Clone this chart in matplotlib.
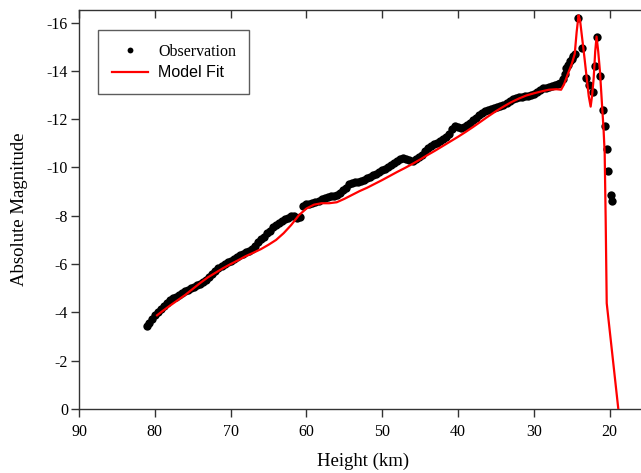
import matplotlib
matplotlib.use("Agg")
import matplotlib.pyplot as plt

plt.rcParams["font.family"] = ["Liberation Serif", "DejaVu Serif"]

# observation (height km, absolute magnitude)
obsH = [81.0, 80.8, 80.4, 80.0, 79.6, 79.2, 78.8, 78.4, 78.0, 77.6, 77.2, 76.8, 76.4, 76.0,
        75.6, 75.2, 74.8, 74.4, 74.0, 73.6, 73.2, 72.8, 72.4, 72.0, 71.6, 71.2, 70.8, 70.4,
        70.0, 69.6, 69.2, 68.8, 68.4, 68.0, 67.6, 67.2, 66.8, 66.4, 66.0, 65.6, 65.2, 64.8,
        64.4, 64.0, 63.6, 63.2, 62.8, 62.4, 62.0, 61.6, 61.2, 60.8, 60.4, 60.0, 59.6, 59.2,
        58.8, 58.4, 58.0, 57.6, 57.2, 56.8, 56.4, 56.0, 55.6, 55.2, 54.8, 54.4, 54.0, 53.6,
        53.2, 52.8, 52.4, 52.0, 51.6, 51.2, 50.8, 50.4, 50.0, 49.6, 49.2, 48.8, 48.4, 48.0,
        47.6, 47.2, 46.8, 46.4, 46.0, 45.6, 45.2, 44.8, 44.4, 44.0, 43.6, 43.2, 42.8, 42.4,
        42.0, 41.6, 41.2, 40.8, 40.4, 40.0, 39.6, 39.2, 38.8, 38.4, 38.0, 37.6, 37.2, 36.8,
        36.4, 36.0, 35.6, 35.2, 34.8, 34.4, 34.0, 33.6, 33.2, 32.8, 32.4, 32.0, 31.6, 31.2,
        30.8, 30.4, 30.0, 29.6, 29.2, 28.8, 28.4, 28.0, 27.6, 27.2, 26.8, 26.5, 26.2, 25.9,
        25.7, 25.5, 25.2, 25.0, 24.8, 24.57, 24.13, 23.68, 23.16, 22.72, 22.23, 21.93, 21.62,
        21.27, 20.83, 20.57, 20.30, 20.17, 19.86, 19.64]
obsM = [-3.45, -3.55, -3.72, -3.88, -4.02, -4.15, -4.27, -4.40, -4.50, -4.58, -4.65, -4.72, -4.80, -4.88,
        -4.93, -5.00, -5.07, -5.13, -5.18, -5.27, -5.36, -5.48, -5.60, -5.72, -5.82, -5.92, -6.00, -6.07,
        -6.13, -6.20, -6.28, -6.36, -6.42, -6.50, -6.56, -6.62, -6.75, -6.90, -7.02, -7.12, -7.27, -7.38,
        -7.52, -7.62, -7.72, -7.80, -7.86, -7.92, -7.98, -7.98, -7.92, -7.95, -8.40, -8.47, -8.50, -8.52,
        -8.56, -8.62, -8.68, -8.73, -8.76, -8.80, -8.84, -8.88, -8.95, -9.05, -9.15, -9.30, -9.36, -9.38,
        -9.40, -9.43, -9.48, -9.55, -9.62, -9.68, -9.74, -9.80, -9.88, -9.95, -10.02, -10.10, -10.18, -10.26,
        -10.34, -10.38, -10.36, -10.30, -10.26, -10.34, -10.42, -10.52, -10.68, -10.80, -10.90, -10.96, -11.02, -11.08,
        -11.16, -11.26, -11.40, -11.58, -11.70, -11.68, -11.64, -11.66, -11.74, -11.84, -11.96, -12.06, -12.16, -12.26,
        -12.34, -12.40, -12.44, -12.47, -12.51, -12.55, -12.60, -12.66, -12.75, -12.84, -12.88, -12.90, -12.92, -12.94,
        -12.97, -13.00, -13.04, -13.12, -13.22, -13.28, -13.30, -13.33, -13.37, -13.40, -13.44, -13.50, -13.65, -13.86,
        -14.10, -14.26, -14.40, -14.50, -14.60, -14.68, -16.18, -14.93, -13.72, -13.42, -13.11, -14.22, -15.39,
        -13.80, -12.38, -11.73, -10.75, -9.86, -8.86, -8.63]

# model fit
fitH = [79.7, 79.0, 78.0, 77.0, 76.0, 75.0, 74.0, 73.0, 72.0, 71.0, 70.0, 69.0, 68.0, 67.0, 66.0,
        65.0, 64.0, 63.0, 62.0, 61.0, 60.0, 59.0, 58.0, 57.0, 56.0, 55.0, 54.0, 53.0, 52.0, 51.0,
        50.0, 49.0, 48.0, 47.0, 46.0, 45.0, 44.0, 43.0, 42.0, 41.0, 40.0, 39.0, 38.0, 37.0, 36.0,
        35.0, 34.0, 33.0, 32.0, 31.0, 30.0, 29.0, 28.0, 27.0, 26.4, 26.0, 25.5, 25.0, 24.6, 24.35,
        24.1, 23.9, 23.6, 23.3, 23.0, 22.75, 22.5, 22.3, 22.1, 21.9, 21.72, 21.5, 21.27, 21.0,
        20.8, 20.65, 20.52, 20.38, 18.85]
fitM = [-3.88, -4.05, -4.28, -4.50, -4.72, -4.97, -5.22, -5.45, -5.64, -5.83, -6.00, -6.16, -6.33, -6.47, -6.62,
        -6.80, -7.00, -7.28, -7.62, -8.02, -8.30, -8.46, -8.52, -8.52, -8.56, -8.70, -8.86, -9.02, -9.16, -9.32,
        -9.48, -9.65, -9.82, -9.98, -10.15, -10.33, -10.52, -10.70, -10.89, -11.08, -11.27, -11.47, -11.68, -11.90, -12.12,
        -12.33, -12.52, -12.70, -12.85, -12.98, -13.07, -13.15, -13.22, -13.24, -13.22, -13.45, -13.88, -14.28, -14.70, -15.60,
        -16.30, -16.10, -15.30, -14.50, -13.65, -12.95, -12.52, -13.00, -13.70, -14.80, -15.42, -14.80, -13.97, -12.60,
        -11.60, -10.60, -7.90, -4.38, 0.0]

xTicks = [90, 80, 70, 60, 50, 40, 30, 20]
yTicks = [0, -2, -4, -6, -8, -10, -12, -14, -16]

fig = plt.figure(figsize=(6.41, 4.73), dpi=100)
ax = fig.add_axes([79 / 641, 64 / 473, 568.5 / 641, 398.5 / 473])

ax.plot(obsH, obsM, "o", color="black", markersize=6, markeredgewidth=0, label="Observation", zorder=2)
ax.plot(fitH, fitM, "-", color="red", linewidth=1.6, label="Model Fit", zorder=3)

ax.set_xlim(90, 15)
ax.set_ylim(0, -16.5)
ax.set_xticks(xTicks)
ax.set_yticks(yTicks)
ax.set_xticklabels([str(t) for t in xTicks])
ax.set_yticklabels([str(t) for t in yTicks])

for s in ax.spines.values():
    s.set_color("#333333")
    s.set_linewidth(1.0)
ax.tick_params(axis="both", colors="#333333", labelcolor="black", labelsize=11.5, width=1.0)
ax.tick_params(axis="x", direction="out", length=6, pad=5, top=True)
ax.tick_params(axis="y", direction="out", length=6, pad=2)
# top ticks point inward
for t in ax.xaxis.get_major_ticks():
    t.tick2line.set_marker(matplotlib.lines.TICKDOWN)
    t.tick2line.set_markersize(6)

ax.set_xlabel("Height (km)", fontsize=13.5, labelpad=9)
ax.set_ylabel("Absolute Magnitude", fontsize=13.5, labelpad=13)

leg = ax.legend(loc="upper left", bbox_to_anchor=(98 / 641, 1 - 30 / 473), bbox_transform=fig.transFigure,
                borderaxespad=0, fancybox=False, fontsize=11.5, borderpad=0.85, labelspacing=0.35,
                handlelength=2.3, handletextpad=0.6, markerscale=0.7)
leg.get_frame().set_edgecolor("#333333")
leg.get_frame().set_linewidth(1.0)
leg.get_texts()[1].set_family("Liberation Sans")

plt.savefig("out.png", dpi=100)
